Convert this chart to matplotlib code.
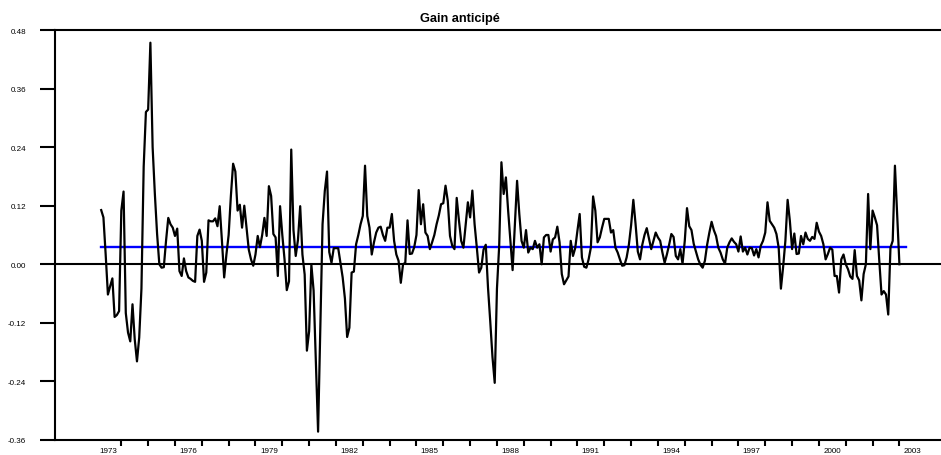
import matplotlib
matplotlib.use('Agg')
import matplotlib.pyplot as plt
import numpy as np
import pandas as pd

plt.rcParams['font.family'] = ['Liberation Sans', 'DejaVu Sans']
plt.rcParams['axes.unicode_minus'] = False

# Gain anticipé, série mensuelle d'avril 1973 à janvier 2003
debut = '1973-04'
g1973 = [0.111, 0.096, 0.02, -0.062, -0.045, -0.029, -0.108, -0.104, -0.096]
g1974 = [0.11, 0.149, -0.10, -0.14, -0.158, -0.082, -0.154, -0.199, -0.15, -0.05, 0.20, 0.312]
g1975 = [0.317, 0.454, 0.24, 0.144, 0.062, 0.0, -0.007, -0.006, 0.048, 0.095, 0.082, 0.075]
g1976 = [0.058, 0.073, -0.014, -0.024, 0.012, -0.014, -0.027, -0.03, -0.034, -0.036, 0.058, 0.071]
g1977 = [0.048, -0.036, -0.017, 0.09, 0.088, 0.088, 0.094, 0.078, 0.119, 0.048, -0.027, 0.02]
g1978 = [0.06, 0.14, 0.206, 0.19, 0.11, 0.122, 0.075, 0.12, 0.075, 0.03, 0.01, -0.003]
g1979 = [0.02, 0.058, 0.035, 0.06, 0.095, 0.058, 0.16, 0.14, 0.062, 0.055, -0.024, 0.119]
g1980 = [0.06, 0.01, -0.053, -0.035, 0.235, 0.07, 0.017, 0.05, 0.119, 0.02, -0.021, -0.177]
g1981 = [-0.137, -0.001, -0.054, -0.2, -0.343, -0.13, 0.082, 0.15, 0.19, 0.025, 0.003, 0.033]
g1982 = [0.033, 0.033, 0.003, -0.027, -0.07, -0.149, -0.13, -0.017, -0.015, 0.041, 0.06, 0.082]
g1983 = [0.099, 0.202, 0.099, 0.075, 0.02, 0.045, 0.065, 0.075, 0.077, 0.06, 0.048, 0.075]
g1984 = [0.075, 0.103, 0.048, 0.02, 0.007, -0.038, 0.0, 0.003, 0.09, 0.021, 0.022, 0.035]
g1985 = [0.06, 0.152, 0.082, 0.123, 0.065, 0.058, 0.031, 0.045, 0.06, 0.082, 0.10, 0.123]
g1986 = [0.125, 0.161, 0.13, 0.058, 0.038, 0.031, 0.136, 0.09, 0.048, 0.034, 0.08, 0.127]
g1987 = [0.096, 0.151, 0.082, 0.034, -0.017, -0.007, 0.03, 0.04, -0.048, -0.117, -0.19, -0.243]
g1988 = [-0.05, 0.038, 0.209, 0.144, 0.178, 0.11, 0.048, -0.012, 0.08, 0.171, 0.103, 0.048]
g1989 = [0.034, 0.07, 0.024, 0.034, 0.031, 0.048, 0.034, 0.041, 0.0, 0.055, 0.06, 0.06]
g1990 = [0.026, 0.051, 0.055, 0.077, 0.045, -0.02, -0.041, -0.033, -0.025, 0.048, 0.017, 0.033]
g1991 = [0.069, 0.103, 0.014, -0.005, -0.007, 0.01, 0.034, 0.139, 0.11, 0.045, 0.055, 0.075]
g1992 = [0.093, 0.093, 0.093, 0.065, 0.07, 0.034, 0.024, 0.01, -0.003, -0.002, 0.014, 0.04]
g1993 = [0.08, 0.132, 0.082, 0.026, 0.01, 0.04, 0.06, 0.074, 0.052, 0.031, 0.048, 0.065]
g1994 = [0.055, 0.048, 0.024, 0.003, 0.02, 0.04, 0.062, 0.056, 0.017, 0.01, 0.031, 0.001]
g1995 = [0.048, 0.115, 0.078, 0.07, 0.042, 0.026, 0.01, -0.001, -0.007, 0.007, 0.04, 0.065]
g1996 = [0.087, 0.07, 0.058, 0.034, 0.024, 0.01, 0.001, 0.034, 0.045, 0.053, 0.046, 0.041]
g1997 = [0.026, 0.057, 0.026, 0.034, 0.02, 0.034, 0.033, 0.018, 0.031, 0.014, 0.038, 0.048]
g1998 = [0.065, 0.127, 0.089, 0.082, 0.075, 0.062, 0.034, -0.05, -0.005, 0.048, 0.132, 0.089]
g1999 = [0.031, 0.063, 0.021, 0.022, 0.058, 0.041, 0.065, 0.052, 0.048, 0.056, 0.052, 0.085]
g2000 = [0.067, 0.058, 0.041, 0.01, 0.021, 0.034, 0.03, -0.024, -0.024, -0.058, 0.01, 0.02]
g2001 = [0.0, -0.01, -0.025, -0.03, 0.029, -0.024, -0.033, -0.074, -0.02, 0.0, 0.144, 0.031]
g2002 = [0.11, 0.096, 0.08, 0.007, -0.062, -0.055, -0.062, -0.103, 0.034, 0.048, 0.202, 0.10]
g2003 = [0.0]

moyenne = 0.036
fin_moyenne = 2003.25

annees_ticks = list(range(1974, 2004))
annees_labels = list(range(1973, 2004, 3))
y_ticks = [-0.36, -0.24, -0.12, 0.00, 0.12, 0.24, 0.36, 0.48]

gain = np.array(g1973 + g1974 + g1975 + g1976 + g1977 + g1978 + g1979 + g1980
                + g1981 + g1982 + g1983 + g1984 + g1985 + g1986 + g1987 + g1988
                + g1989 + g1990 + g1991 + g1992 + g1993 + g1994 + g1995 + g1996
                + g1997 + g1998 + g1999 + g2000 + g2001 + g2002 + g2003)
dates = pd.date_range(debut, periods=len(gain), freq='MS')
t = dates.year + (dates.month - 1) / 12

fig = plt.figure(figsize=(9.41, 4.56), dpi=100)
ax = fig.add_axes([0.0585, 0.033, 0.9415, 0.899])

ax.axhline(0, color='black', lw=1.5, zorder=1)
ax.plot([t[0], fin_moyenne], [moyenne, moyenne], color='#0000ff', lw=1.7, zorder=2)
ax.plot(t, gain, color='black', lw=1.6, zorder=3)

ax.set_xlim(1971.53, 2004.55)
ax.set_ylim(-0.36, 0.48)

for s in ['left', 'top', 'bottom']:
    ax.spines[s].set_linewidth(1.5)
ax.spines['right'].set_visible(False)

ax.set_yticks(y_ticks)
ax.set_yticklabels([f'{v:.2f}' for v in y_ticks])
ax.tick_params(axis='y', direction='out', length=10.5, width=1.5, pad=10.5, labelsize=5.8)

ax.set_xticks(annees_ticks)
ax.set_xticklabels([])
ax.set_xticks([a + 0.5 for a in annees_labels], minor=True)
ax.set_xticklabels([str(a) for a in annees_labels], minor=True)
ax.tick_params(axis='x', which='major', direction='out', length=4.5, width=1.5)
ax.tick_params(axis='x', which='minor', length=0, pad=5, labelsize=5.8)

fig.text(0.489, 0.952, 'Gain anticipé', ha='center', va='baseline',
         fontsize=9.2, fontweight='bold')

fig.savefig('out.png', dpi=100)
